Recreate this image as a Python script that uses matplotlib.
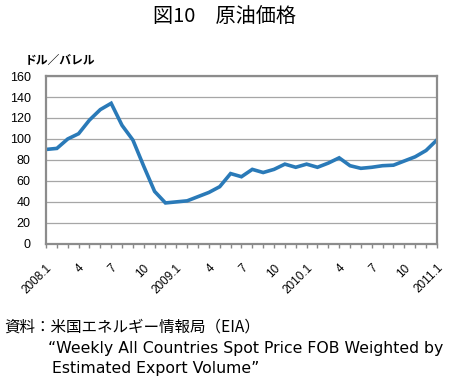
import matplotlib
matplotlib.use("Agg")
import matplotlib.pyplot as plt
import matplotlib.transforms as mtransforms

plt.rcParams['font.family'] = ['Noto Sans CJK JP', 'DejaVu Sans']

months = list(range(37))
prices = [90, 91, 100, 105, 118, 128, 134, 113, 99, 74, 50, 39, 40, 41, 45, 49, 54.5,
          67, 64, 71, 68, 71, 76, 73, 76, 73, 77, 82, 74.5, 72, 73, 74.5, 75, 79, 83, 89, 99]
tick_pos = [0, 3, 6, 9, 12, 15, 18, 21, 24, 27, 30, 33, 36]
tick_labels = ["2008.1", "4", "7", "10", "2009.1", "4", "7", "10", "2010.1", "4", "7", "10", "2011.1"]
yticks = [0, 20, 40, 60, 80, 100, 120, 140, 160]

fig = plt.figure(figsize=(4.49, 3.84), dpi=100)
ax = fig.add_axes([0.1025, 0.365, 0.8705, 0.437])
ax.plot(months, prices, color='#2A7AB8', linewidth=2.6, solid_joinstyle='miter')
ax.set_xlim(0, 36)
ax.set_ylim(0, 160)
ax.set_yticks(yticks)
ax.set_yticklabels([str(v) for v in yticks], fontsize=9, family='Liberation Sans')
ax.yaxis.grid(True, color='#A6A6A6', linewidth=0.9)
ax.set_axisbelow(True)
ax.tick_params(axis='y', length=0, pad=11)
ax.set_xticks(months, minor=True)
ax.set_xticks(tick_pos)
ax.set_xticklabels(tick_labels, rotation=45, ha='right', va='center', rotation_mode='anchor',
                   fontsize=8.5, family='Liberation Sans')
ax.tick_params(axis='x', which='both', direction='out', length=3, width=1, color='#888888', pad=13)
offset = mtransforms.ScaledTranslation(4/100, 0, fig.dpi_scale_trans)
for lab in ax.get_xticklabels():
    lab.set_transform(lab.get_transform() + offset)
for s in ax.spines.values():
    s.set_color('#8C8C8C')
    s.set_linewidth(1.6)

fig.text(0.5, 0.955, "図10　原油価格", ha='center', va='center', fontsize=14.5)
fig.text(0.056, 0.843, "ドル／バレル", ha='left', va='center', fontsize=8.5, fontweight='bold')
fig.text(0.01, 0.148, "資料：米国エネルギー情報局（EIA）", ha='left', va='center', fontsize=11.2)
fig.text(0.108, 0.093, "\u201cWeekly All Countries Spot Price FOB Weighted by", ha='left', va='center',
         fontsize=11.3, family='DejaVu Sans')
fig.text(0.115, 0.040, "Estimated Export Volume\u201d", ha='left', va='center', fontsize=11.3,
         family='DejaVu Sans')

fig.savefig("out.png", dpi=100)
